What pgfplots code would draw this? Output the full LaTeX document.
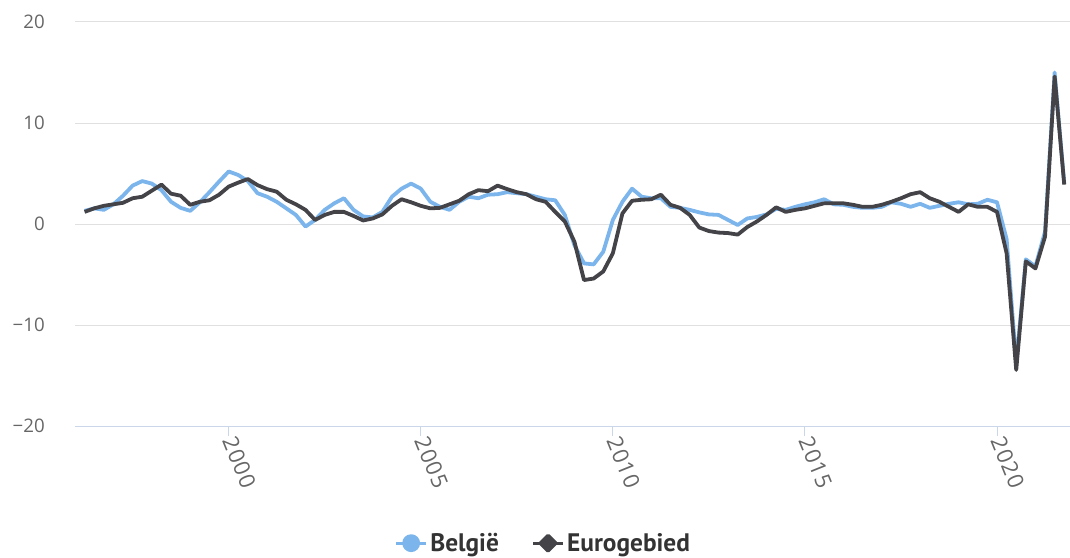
\documentclass[border=0pt]{standalone}
\usepackage{pgfplots}
\pgfplotsset{compat=1.18}
\usepackage{pgfplotstable}
\usepackage{fontspec}
\setmainfont{Open Sans}
\newfontfamily\legfont{PT Sans}
\newlength\px \setlength\px{0.75pt}
\definecolor{beblue}{HTML}{7CB5EC}
\definecolor{ezdark}{HTML}{434348}
\definecolor{gridc}{HTML}{E0E0E0}
\definecolor{axc}{HTML}{CCD6EB}
\definecolor{labc}{HTML}{666666}
\definecolor{legc}{HTML}{333333}

\pgfplotstableread{
x be ez
1996.25 1.3 1.2
1996.5 1.55 1.55
1996.75 1.4 1.8
1997.0 1.95 1.95
1997.25 2.8 2.1
1997.5 3.8 2.55
1997.75 4.25 2.7
1998.0 4.0 3.3
1998.25 3.35 3.9
1998.5 2.2 3.0
1998.75 1.6 2.8
1999.0 1.3 1.9
1999.25 2.15 2.2
1999.5 3.15 2.35
1999.75 4.2 2.9
2000.0 5.2 3.7
2000.25 4.85 4.1
2000.5 4.25 4.45
2000.75 3.05 3.85
2001.0 2.7 3.45
2001.25 2.2 3.2
2001.5 1.55 2.4
2001.75 0.9 1.95
2002.0 -0.25 1.4
2002.25 0.4 0.4
2002.5 1.4 0.9
2002.75 2.05 1.2
2003.0 2.55 1.2
2003.25 1.4 0.8
2003.5 0.75 0.35
2003.75 0.65 0.55
2004.0 1.2 0.95
2004.25 2.7 1.8
2004.5 3.5 2.45
2004.75 4.0 2.15
2005.0 3.5 1.8
2005.25 2.2 1.55
2005.5 1.7 1.6
2005.75 1.4 1.95
2006.0 2.2 2.3
2006.25 2.7 2.95
2006.5 2.55 3.35
2006.75 2.9 3.25
2007.0 2.95 3.8
2007.25 3.15 3.45
2007.5 3.05 3.15
2007.75 2.95 2.95
2008.0 2.7 2.45
2008.25 2.45 2.2
2008.5 2.35 1.2
2008.75 0.9 0.25
2009.0 -2.1 -1.75
2009.25 -3.9 -5.55
2009.5 -4.0 -5.4
2009.75 -2.75 -4.7
2010.0 0.4 -2.9
2010.25 2.2 1.05
2010.5 3.5 2.3
2010.75 2.7 2.4
2011.0 2.55 2.45
2011.25 2.55 2.9
2011.5 1.7 1.9
2011.75 1.6 1.6
2012.0 1.4 0.9
2012.25 1.15 -0.35
2012.5 0.95 -0.7
2012.75 0.9 -0.85
2013.0 0.4 -0.9
2013.25 -0.1 -1.05
2013.5 0.55 -0.3
2013.75 0.7 0.25
2014.0 0.95 0.9
2014.25 1.5 1.65
2014.5 1.4 1.2
2014.75 1.7 1.4
2015.0 1.95 1.55
2015.25 2.15 1.8
2015.5 2.45 2.05
2015.75 1.95 2.05
2016.0 1.9 2.05
2016.25 1.7 1.9
2016.5 1.6 1.7
2016.75 1.6 1.7
2017.0 1.7 1.9
2017.25 2.15 2.2
2017.5 2.0 2.55
2017.75 1.7 2.95
2018.0 2.0 3.15
2018.25 1.6 2.55
2018.5 1.8 2.2
2018.75 2.0 1.7
2019.0 2.15 1.2
2019.25 1.95 1.95
2019.5 2.0 1.7
2019.75 2.4 1.7
2020.0 2.15 1.2
2020.25 -1.5 -2.9
2020.5 -13.8 -14.45
2020.75 -3.5 -3.7
2021.0 -4.2 -4.4
2021.25 -0.75 -1.25
2021.5 15.0 14.6
2021.75 4.0 3.9
}\datatable

\begin{document}
\begin{tikzpicture}
\begin{axis}[
  at={(75\px,131\px)}, anchor=south west,
  width=995\px, height=404\px, scale only axis,
  xmin=1996.0, xmax=2021.9, ymin=-20, ymax=20,
  xtick={2000,2005,2010,2015,2020},
  ytick={-20,-10,0,10,20},
  yticklabels={−20,−10,0,10,20},
  ymajorgrids, grid style={gridc, line width=1\px},
  axis x line*=bottom, axis y line*=left,
  y axis line style={draw=none},
  x axis line style={axc, line width=1\px},
  xtick style={axc, line width=1\px},
  ytick style={draw=none},
  major tick length=10\px, tick align=outside,
  tick label style={font=\fontsize{14pt}{16pt}\selectfont, color=labc},
  /pgf/number format/assume math mode=true,
  /pgf/number format/1000 sep={},
  yticklabel style={anchor=east, inner sep=0pt, xshift=-20\px},
  xticklabel style={rotate=-68, anchor=west, inner sep=1\px,
    font=\addfontfeature{LetterSpace=6}\fontsize{16.5pt}{18pt}\selectfont},
  clip=false,
  legend style={at={(0.471,-0.29)}, anchor=center, draw=none, fill=none,
    font=\legfont\bfseries\fontsize{19pt}{22pt}\selectfont, text=legc,
    legend columns=2, /tikz/every even column/.append style={column sep=30\px}},
  legend cell align=left,
]
\addplot[beblue, line width=3.8\px, line join=round,
  legend image code/.code={\draw[beblue, line width=3\px] (0,0) -- (30\px,0); \fill[beblue] (15\px,0) circle (7\px);}]
  table[x=x, y=be] {\datatable};
\addlegendentry{België}
\addplot[ezdark, line width=3.8\px, line join=round,
  legend image code/.code={\draw[ezdark, line width=3\px] (0,0) -- (30\px,0); \fill[ezdark] (15\px,-7.5\px) -- (22.5\px,0) -- (15\px,7.5\px) -- (7.5\px,0) -- cycle;}]
  table[x=x, y=ez] {\datatable};
\addlegendentry{Eurogebied}
\end{axis}
\pgfresetboundingbox
\path[use as bounding box] (0,0) rectangle (1070\px,557\px);
\end{tikzpicture}
\end{document}
